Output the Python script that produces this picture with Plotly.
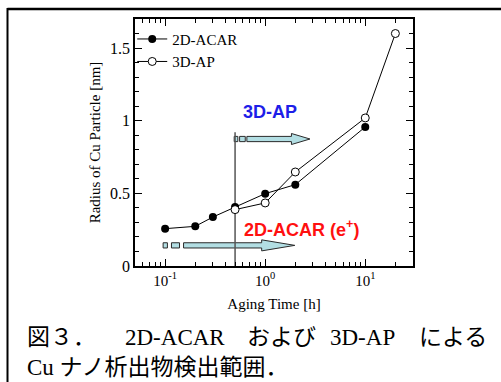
import numpy as np
import plotly.graph_objects as go

# ---- data ----
acar_time = [0.1, 0.2, 0.3, 0.5, 1, 2, 10]
acar_radius = [0.257, 0.273, 0.337, 0.406, 0.498, 0.56, 0.957]
ap_time = [0.5, 1, 2, 10, 20]
ap_radius = [0.388, 0.434, 0.647, 1.019, 1.6]

x_tickvals = [0.1, 1, 10]
x_ticktext = ["10<sup>-1</sup>", "10<sup>0</sup>", "10<sup>1</sup>"]
y_tickvals = [0, 0.5, 1, 1.5]
y_ticktext = ["0", "0.5", "1", "1.5"]

# detection-range arrows (hours, nm)
ap_arrow_y = 0.874
ap_arrow_boxes = [(0.49, 0.533), (0.555, 0.632)]
ap_arrow_shaft = (0.656, 1.83, 2.8)   # start, head base, tip
acar_arrow_y = 0.142
acar_arrow_boxes = [(0.0955, 0.1054), (0.1157, 0.1393)]
acar_arrow_shaft = (0.1528, 0.922, 1.977)
limit_time = 0.5
limit_top = 0.92

ap_label = ("<b>3D-AP</b>", 1.11, 1.058)
acar_label = ("<b>2D-ACAR (e<sup>+</sup>)</b>", 2.33, 0.26)

SERIF = "Liberation Serif, Times New Roman, serif"
SANS = "Liberation Sans, Arial, sans-serif"
CAP = "Liberation Serif, Noto Sans CJK JP, serif"
ARROW_FILL = "#b2dee3"
ARROW_LINE = "#2a2a2a"
SH = 0.018   # shaft half height
HH = 0.038   # head half height

fig = go.Figure()

def add_poly(xs, ys):
    fig.add_trace(go.Scatter(x=xs + [xs[0]], y=ys + [ys[0]], mode="lines", fill="toself",
                             fillcolor=ARROW_FILL, line=dict(color=ARROW_LINE, width=1),
                             showlegend=False, hoverinfo="skip"))

def add_arrow(y, boxes, shaft):
    for a, b in boxes:
        add_poly([a, b, b, a], [y - SH, y - SH, y + SH, y + SH])
    s, hb, tip = shaft
    add_poly([s, hb, hb, tip, hb, hb, s],
             [y - SH, y - SH, y - HH, y, y + HH, y + SH, y + SH])

add_arrow(ap_arrow_y, ap_arrow_boxes, ap_arrow_shaft)
add_arrow(acar_arrow_y, acar_arrow_boxes, acar_arrow_shaft)

fig.add_trace(go.Scatter(x=[limit_time, limit_time], y=[0, limit_top], mode="lines",
                         line=dict(color="#555555", width=1.5), showlegend=False, hoverinfo="skip"))

fig.add_trace(go.Scatter(x=acar_time, y=acar_radius, mode="lines+markers", name="2D-ACAR",
                         line=dict(color="black", width=1),
                         marker=dict(symbol="circle", size=8, color="black")))
fig.add_trace(go.Scatter(x=ap_time, y=ap_radius, mode="lines+markers", name="3D-AP",
                         line=dict(color="black", width=1),
                         marker=dict(symbol="circle", size=8, color="white",
                                     line=dict(color="black", width=1))))

for text, x, y, col in [(ap_label[0], ap_label[1], ap_label[2], "#1e1ee8"),
                        (acar_label[0], acar_label[1], acar_label[2], "#ff1010")]:
    fig.add_annotation(x=np.log10(x), y=y, xref="x", yref="y", text=text, showarrow=False,
                       font=dict(family=SANS, size=18, color=col), xanchor="center", yanchor="middle")

# caption
W, H = 501, 382
L, R, T, B = 135, 88, 19, 116
pw, ph = W - L - R, H - T - B
def px(x): return (x - L) / pw
def py(y): return (H - B - y) / ph

cap1 = [("図３．", 25), ("2D-ACAR", 123), ("および", 245), ("3D-AP", 328), ("による", 417)]
for t, x0 in cap1:
    fig.add_annotation(x=px(x0), y=py(337), xref="paper", yref="paper", text=t, showarrow=False,
                       xanchor="left", yanchor="middle", font=dict(family=CAP, size=23, color="black"))
fig.add_annotation(x=px(25), y=py(367), xref="paper", yref="paper", text="Cu ナノ析出物検出範囲．",
                   showarrow=False, xanchor="left", yanchor="middle",
                   font=dict(family=CAP, size=23, color="black"))

# outer frame
fig.add_shape(type="line", xref="paper", yref="paper", x0=px(7.5), x1=px(520), y0=py(9), y1=py(9),
              line=dict(color="black", width=2.5))
fig.add_shape(type="line", xref="paper", yref="paper", x0=px(7.5), x1=px(7.5), y0=py(8), y1=py(400),
              line=dict(color="black", width=2))

fig.update_layout(
    width=W, height=H, margin=dict(l=L, r=R, t=T, b=B),
    paper_bgcolor="white", plot_bgcolor="white",
    showlegend=True,
    legend=dict(x=-0.01, y=0.985, xanchor="left", yanchor="top", bgcolor="rgba(0,0,0,0)",
                font=dict(family=SERIF, size=15, color="black"), itemwidth=30,
                tracegroupgap=0),
    xaxis=dict(type="log", range=[np.log10(0.05), np.log10(30)], showgrid=False, zeroline=False,
               showline=True, linecolor="black", linewidth=1.5, mirror="allticks",
               ticks="inside", ticklen=7, tickcolor="black",
               tickvals=x_tickvals, ticktext=x_ticktext,
               tickfont=dict(family=SERIF, size=15, color="black"),
               minor=dict(ticks="inside", ticklen=4, tickcolor="black", dtick="D1", showgrid=False),
               title=dict(text="Aging Time [h]", font=dict(family=SERIF, size=15, color="black"), standoff=11)),
    yaxis=dict(range=[0, 1.7], showgrid=False, zeroline=False,
               showline=True, linecolor="black", linewidth=1.5, mirror="allticks",
               ticks="inside", ticklen=7, tickcolor="black",
               tickvals=y_tickvals, ticktext=y_ticktext,
               tickfont=dict(family=SERIF, size=16, color="black"),
               minor=dict(ticks="inside", ticklen=4, tickcolor="black", dtick=0.1, showgrid=False),
               title=dict(text="Radius of Cu Particle [nm]", font=dict(family=SERIF, size=15, color="black"), standoff=6)),
)

fig.write_html("out.html", config={"displayModeBar": False},
               post_script="document.body.style.margin='0';")
